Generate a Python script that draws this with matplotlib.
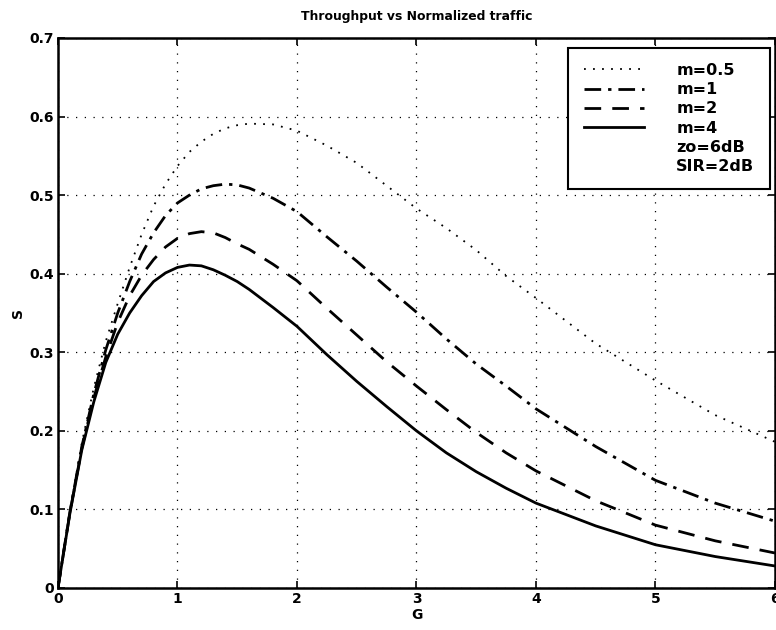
import matplotlib
matplotlib.use('Agg')
import matplotlib.pyplot as plt
from matplotlib.lines import Line2D

# traffic G (x axis) and throughput S for each Nakagami m
g_vals = [0, 0.1, 0.2, 0.3, 0.4, 0.5, 0.6, 0.7, 0.8, 0.9, 1.0, 1.1, 1.2, 1.3,
          1.4, 1.5, 1.6, 1.8, 2.0, 2.25, 2.5, 2.75, 3.0, 3.25, 3.5, 3.75, 4.0,
          4.5, 5.0, 5.5, 6.0]

s_m05 = [0, 0.098, 0.185, 0.255, 0.314, 0.362, 0.408, 0.450, 0.486, 0.514,
         0.537, 0.555, 0.568, 0.578, 0.585, 0.589, 0.591, 0.590, 0.582, 0.563,
         0.541, 0.512, 0.483, 0.458, 0.430, 0.397, 0.369, 0.311, 0.264, 0.220,
         0.186]
s_m1 = [0, 0.097, 0.180, 0.247, 0.303, 0.350, 0.390, 0.425, 0.452, 0.474,
        0.490, 0.500, 0.508, 0.512, 0.514, 0.513, 0.509, 0.496, 0.479, 0.447,
        0.416, 0.383, 0.351, 0.317, 0.285, 0.257, 0.228, 0.180, 0.137, 0.108,
        0.085]
s_m2 = [0, 0.096, 0.178, 0.242, 0.294, 0.338, 0.372, 0.398, 0.418, 0.434,
        0.445, 0.451, 0.4535, 0.452, 0.446, 0.438, 0.431, 0.412, 0.391, 0.356,
        0.322, 0.288, 0.257, 0.227, 0.198, 0.172, 0.149, 0.111, 0.080, 0.060,
        0.0445]
s_m4 = [0, 0.095, 0.176, 0.237, 0.287, 0.323, 0.350, 0.372, 0.390, 0.401,
        0.408, 0.411, 0.410, 0.405, 0.398, 0.390, 0.380, 0.357, 0.333, 0.297,
        0.263, 0.231, 0.200, 0.172, 0.148, 0.127, 0.108, 0.079, 0.055, 0.040,
        0.028]

labels = ['m=0.5', 'm=1', 'm=2', 'm=4']
extra_labels = ['zo=6dB', 'SIR=2dB']
x_ticks = [0, 1, 2, 3, 4, 5, 6]
y_ticks = [0, 0.1, 0.2, 0.3, 0.4, 0.5, 0.6, 0.7]
y_tick_labels = ['0', '0.1', '0.2', '0.3', '0.4', '0.5', '0.6', '0.7']

plt.rcParams['font.family'] = ['DejaVu Sans']
plt.rcParams['font.weight'] = 'bold'

fig = plt.figure(figsize=(7.76, 6.3), dpi=100)
ax = fig.add_axes([0.0747, 0.0667, 0.924, 0.873])

styles = [
    dict(linestyle=(0, (1, 4)), linewidth=1.3),
    dict(linestyle=(0, (6, 2.5, 1.2, 2.5)), linewidth=2.0),
    dict(linestyle=(0, (6, 4)), linewidth=2.0),
    dict(linestyle='-', linewidth=2.0),
]
series = [s_m05, s_m1, s_m2, s_m4]

handles = []
for s, st, lab in zip(series, styles, labels):
    h, = ax.plot(g_vals, s, color='black', label=lab, **st)
    handles.append(h)
for lab in extra_labels:
    handles.append(Line2D([], [], linestyle='none', label=lab))

ax.set_xlim(0, 6)
ax.set_ylim(0, 0.7)
ax.set_xticks(x_ticks)
ax.set_yticks(y_ticks)
ax.set_xticklabels([str(t) for t in x_ticks])
ax.set_yticklabels(y_tick_labels)
ax.tick_params(direction='in', length=5, width=1.2, labelsize=10,
               top=True, right=True, pad=3)
ax.grid(True, color='black', linestyle=(0, (1, 6)), linewidth=0.9)
for sp in ax.spines.values():
    sp.set_linewidth(1.8)

ax.set_xlabel('G', fontsize=10, fontweight='bold', labelpad=1)
ax.set_ylabel('S', fontsize=10, fontweight='bold', labelpad=3)
ax.set_title('Throughput vs Normalized traffic', fontsize=8.9,
             fontweight='bold', pad=13)

leg = ax.legend(handles=handles, loc='upper left',
                bbox_to_anchor=(0.712, 0.982), fontsize=11.5,
                frameon=True, fancybox=False, edgecolor='black',
                handlelength=3.75, handletextpad=2.05, labelspacing=0.26,
                borderpad=0.95, borderaxespad=0)
leg.get_frame().set_linewidth(1.5)
leg.get_frame().set_alpha(1)

fig.savefig('out.png', dpi=100)
